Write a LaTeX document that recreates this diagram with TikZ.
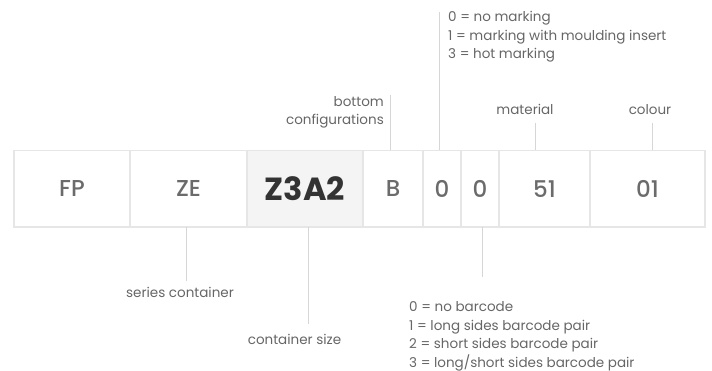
\documentclass[tikz,border=0pt]{standalone}
\usepackage{fontspec}
\setmainfont{Poppins}
\newfontfamily\medfont{Poppins Medium}
\usetikzlibrary{positioning}
\definecolor{cellline}{HTML}{E6E6E6}
\definecolor{cellfill}{HTML}{F4F4F4}
\definecolor{leadline}{HTML}{D6D6D6}
\definecolor{celltext}{HTML}{6B6B6B}
\definecolor{darktext}{HTML}{333333}
\definecolor{notetext}{HTML}{666666}
\tikzset{
	cell/.style={draw=cellline, line width=1.2pt, fill=white, minimum height=76.5pt, outer sep=0pt, inner sep=0pt, text=celltext, font=\medfont\fontsize{23}{27}\selectfont},
	bigcell/.style={cell, fill=cellfill, text=darktext, font=\bfseries\fontsize{32}{36}\selectfont},
	lead/.style={draw=leadline, line width=0.9pt},
	note/.style={inner sep=0pt, text=notetext, font=\fontsize{13.5}{18.5}\selectfont},
	listnote/.style={note, align=left, anchor=base west}
}
\begin{document}
\begin{tikzpicture}[x=1pt, y=-1pt]
	\useasboundingbox (0,0) rectangle (712,371);
	% code cells
	\node[cell, minimum width=116pt, anchor=north west] (fp) at (14,150.5) {FP};
	\node[cell, minimum width=117pt, right=0pt of fp] (ze) {ZE};
	\node[bigcell, minimum width=116pt, right=0pt of ze] (size) {Z3A2};
	\node[cell, minimum width=60pt, right=0pt of size] (bot) {B};
	\node[cell, minimum width=38pt, right=0pt of bot] (mark) {0};
	\node[cell, minimum width=38pt, right=0pt of mark] (bar) {0};
	\node[cell, minimum width=91pt, right=0pt of bar] (mat) {51};
	\node[cell, minimum width=115pt, right=0pt of mat] (col) {01};
	% labels above (base = last line)
	\coordinate (bot end) at (390,95);
	\coordinate (mark end) at (439,12);
	\coordinate (mat end) at (535,122.7);
	\coordinate (col end) at (652,122.7);
	\draw[lead] (bot end) -- (bot end |- bot.north);
	\draw[lead] (mark end) -- (mark end |- mark.north);
	\draw[lead] (mat end) -- (mat end |- mat.north);
	\draw[lead] (col end) -- (col end |- col.north);
	\node[note, align=right, anchor=base east] (bot lbl) at (384,125) {bottom\\configurations};
	\node[listnote] (mark lbl) at (448,59) {0 = no marking\\1 = marking with moulding insert\\3 = hot marking};
	\node[note, anchor=base] (mat lbl) at (525,115) {material};
	\node[note, anchor=base] (col lbl) at (650,115) {colour};
	% labels below
	\coordinate (ze end) at (186,281.5);
	\coordinate (size end) at (308,324);
	\coordinate (bar end) at (482,277);
	\draw[lead] (ze end) -- (ze end |- ze.south);
	\draw[lead] (size end) -- (size end |- size.south);
	\draw[lead] (bar end) -- (bar end |- bar.south);
	\node[note, anchor=base] (ze lbl) at (180,297.5) {series container};
	\node[note, anchor=base] (size lbl) at (294.5,344.5) {container size};
	\node[listnote] (bar lbl) at (409,367) {0 = no barcode\\1 = long sides barcode pair\\2 = short sides barcode pair\\3 = long/short sides barcode pair};
\end{tikzpicture}
\end{document}
